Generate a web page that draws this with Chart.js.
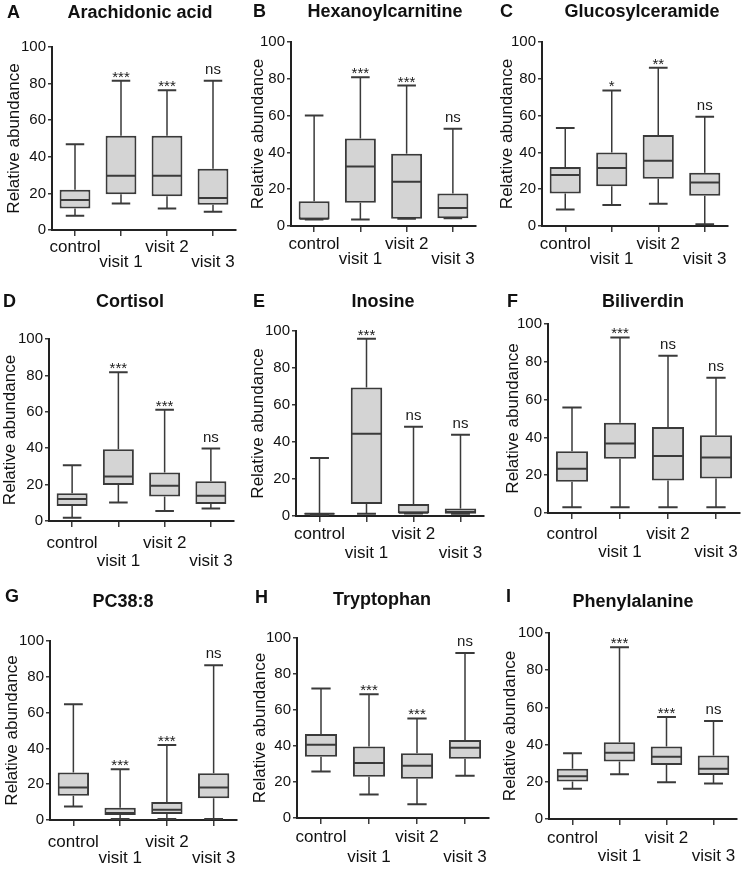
<!DOCTYPE html>
<html>
<head>
<meta charset="utf-8">
<script src="https://cdn.jsdelivr.net/npm/chart.js@4.4.0/dist/chart.umd.min.js"></script>
<style>
  body { margin: 0; background: #fff; }
  #wrap { position: relative; width: 749px; height: 869px; }
  canvas { position: absolute; }
</style>
</head>
<body>
<div id="wrap"></div>
<script>
const categories = ['control', 'visit 1', 'visit 2', 'visit 3'];
const yTickValues = [0, 20, 40, 60, 80, 100];
const panelLetters = ['A', 'B', 'C', 'D', 'E', 'F', 'G', 'H', 'I'];
const panelTitles = ['Arachidonic acid', 'Hexanoylcarnitine', 'Glucosylceramide', 'Cortisol',
  'Inosine', 'Biliverdin', 'PC38:8', 'Tryptophan', 'Phenylalanine'];

// each group: [min, q1, median, q3, max]
const arachidonicAcid = [[7.8, 11.8, 16.4, 22.0, 46.9], [14.5, 19.6, 29.6, 51.5, 81.5], [11.8, 18.5, 29.6, 51.5, 76.4], [10.0, 13.8, 17.5, 33.5, 81.5]];
const hexanoylcarnitine = [[3.6, 3.6, 3.9, 13.4, 60.1], [3.6, 12.7, 32.4, 47.5, 80.8], [4.0, 4.0, 24.1, 39.3, 76.3], [4.2, 4.2, 9.8, 17.6, 52.9]];
const glucosylceramide = [[8.9, 17.6, 27.7, 32.1, 53.3], [11.4, 21.6, 31.5, 40.0, 73.7], [12.1, 25.7, 35.5, 49.5, 86.0], [0.9, 16.5, 23.6, 29.0, 59.4]];
const cortisol = [[1.8, 8.3, 12.1, 15.2, 30.6], [10.1, 19.8, 24.4, 39.4, 81.7], [5.5, 13.4, 19.4, 26.6, 61.1], [6.8, 9.4, 13.9, 21.8, 39.8]];
const inosine = [[0.6, 0.8, 1.2, 1.5, 31.3], [1.2, 6.5, 44.5, 69.4, 95.8], [1.4, 1.5, 1.8, 6.5, 48.3], [1.2, 1.2, 2.2, 4.0, 43.9]];
const biliverdin = [[3.0, 16.6, 23.4, 32.7, 55.8], [3.0, 28.7, 36.8, 47.8, 92.9], [3.0, 17.2, 30.1, 45.5, 83.2], [3.0, 18.2, 29.4, 41.2, 71.5]];
const pc38_8 = [[7.6, 13.6, 18.1, 26.6, 64.6], [0.6, 2.8, 3.9, 6.9, 28.3], [0.6, 3.3, 5.7, 10.0, 41.9], [0.6, 12.1, 18.1, 26.1, 86.4]];
const tryptophan = [[25.9, 34.0, 40.7, 46.6, 71.9], [13.1, 22.9, 30.5, 39.7, 68.8], [7.6, 21.8, 29.0, 36.0, 55.3], [23.5, 32.9, 39.0, 43.3, 91.7]];
const phenylalanine = [[16.2, 20.1, 23.0, 27.0, 35.3], [24.1, 30.9, 35.6, 41.2, 92.3], [19.8, 29.0, 33.5, 39.0, 54.9], [19.1, 23.6, 27.0, 34.2, 52.7]];

const sigArachidonic = ['', '***', '***', 'ns'];
const sigHexanoyl = ['', '***', '***', 'ns'];
const sigGlucosyl = ['', '*', '**', 'ns'];
const sigCortisol = ['', '***', '***', 'ns'];
const sigInosine = ['', '***', 'ns', 'ns'];
const sigBiliverdin = ['', '***', 'ns', 'ns'];
const sigPC = ['', '***', '***', 'ns'];
const sigTryptophan = ['', '***', '***', 'ns'];
const sigPhenyl = ['', '***', '***', 'ns'];

const panelStats = [arachidonicAcid, hexanoylcarnitine, glucosylceramide, cortisol, inosine, biliverdin, pc38_8, tryptophan, phenylalanine];
const panelSig = [sigArachidonic, sigHexanoyl, sigGlucosyl, sigCortisol, sigInosine, sigBiliverdin, sigPC, sigTryptophan, sigPhenyl];

// where each panel sits and where its plot area falls
const panelLayout = [
  { x: 0,   y: 0,   w: 250, h: 290, left: 52, top: 47, right: 236, bottom: 230, tx: 140, ty: 13, lx: 7, ly: 13, lh: 15, pad: 4, yt: 6 },
  { x: 250, y: 0,   w: 250, h: 290, left: 41, top: 42, right: 226, bottom: 226, tx: 135, ty: 12, lx: 3, ly: 12, lh: 15, pad: 5, yt: 0 },
  { x: 500, y: 0,   w: 249, h: 290, left: 42, top: 42, right: 228, bottom: 226, tx: 142, ty: 12, lx: 0, ly: 12, lh: 15, pad: 5, yt: -1 },
  { x: 0,   y: 290, w: 250, h: 290, left: 49, top: 49, right: 234, bottom: 231, tx: 130, ty: 12, lx: 3, ly: 12, lh: 18, pad: 7, yt: 2 },
  { x: 250, y: 290, w: 250, h: 290, left: 46, top: 41, right: 234, bottom: 226, tx: 133, ty: 12, lx: 3, ly: 12, lh: 19, pad: 3, yt: 0 },
  { x: 500, y: 290, w: 249, h: 290, left: 48, top: 34, right: 240, bottom: 223, tx: 143, ty: 12, lx: 7, ly: 12, lh: 18, pad: 6, yt: 5 },
  { x: 0,   y: 580, w: 250, h: 289, left: 50, top: 61, right: 237, bottom: 240, tx: 123, ty: 22, lx: 5, ly: 17, lh: 16, pad: 8, yt: 4 },
  { x: 250, y: 580, w: 250, h: 289, left: 47, top: 58, right: 239, bottom: 238, tx: 132, ty: 20, lx: 5, ly: 18, lh: 20, pad: 3, yt: 2 },
  { x: 500, y: 580, w: 249, h: 289, left: 49, top: 53, right: 237, bottom: 239, tx: 133, ty: 22, lx: 6, ly: 17, lh: 18, pad: 4, yt: 2 }
];

const FONT = "'Liberation Sans', Arial, sans-serif";
const LINE = '#3a3a3a';

const boxPlugin = {
  id: 'boxDetails',
  afterDatasetsDraw(chart, args, opts) {
    const { ctx } = chart;
    const y = chart.scales.y;
    const meta = chart.getDatasetMeta(0);
    ctx.save();
    ctx.strokeStyle = LINE;
    meta.data.forEach((bar, i) => {
      const [mn, q1, med, q3, mx] = opts.stats[i];
      const x = bar.x;
      const half = bar.width / 2;
      const cap = bar.width * 0.3;
      const pMax = y.getPixelForValue(mx);
      const pMin = y.getPixelForValue(mn);
      ctx.lineWidth = 1.5;
      ctx.beginPath();
      ctx.moveTo(x, y.getPixelForValue(q3));
      ctx.lineTo(x, pMax);
      ctx.moveTo(x, y.getPixelForValue(q1));
      ctx.lineTo(x, pMin);
      ctx.stroke();
      ctx.lineWidth = 2;
      ctx.beginPath();
      ctx.moveTo(x - cap, pMax);
      ctx.lineTo(x + cap, pMax);
      ctx.moveTo(x - cap, pMin);
      ctx.lineTo(x + cap, pMin);
      const pMed = y.getPixelForValue(med);
      ctx.moveTo(x - half + 1, pMed);
      ctx.lineTo(x + half - 1, pMed);
      ctx.stroke();

      const sig = opts.sig[i];
      if (sig) {
        ctx.fillStyle = '#1a1a1a';
        ctx.textAlign = 'center';
        ctx.textBaseline = 'alphabetic';
        ctx.font = '15px ' + FONT;
        ctx.fillText(sig, x, sig === 'ns' ? pMax - 7 : pMax + 1);
      }
    });
    ctx.restore();
  },
  afterDraw(chart, args, opts) {
    const { ctx } = chart;
    ctx.save();
    ctx.fillStyle = '#111';
    ctx.font = 'bold 18px ' + FONT;
    ctx.textBaseline = 'middle';
    ctx.textAlign = 'left';
    ctx.fillText(opts.letter, opts.lx, opts.ly);
    ctx.textAlign = 'center';
    ctx.fillText(opts.title, opts.tx, opts.ty);
    ctx.restore();
  }
};

const wrap = document.getElementById('wrap');

panelLayout.forEach((p, k) => {
  const canvas = document.createElement('canvas');
  canvas.width = p.w;
  canvas.height = p.h;
  canvas.style.left = p.x + 'px';
  canvas.style.top = p.y + 'px';
  canvas.style.width = p.w + 'px';
  canvas.style.height = p.h + 'px';
  wrap.appendChild(canvas);

  const stats = panelStats[k];

  new Chart(canvas.getContext('2d'), {
    type: 'bar',
    data: {
      labels: categories,
      datasets: [{
        data: stats.map(s => [s[1], s[3]]),
        backgroundColor: '#d4d4d4',
        borderColor: LINE,
        borderWidth: 2,
        borderSkipped: false,
        barPercentage: 0.67,
        categoryPercentage: 1
      }]
    },
    options: {
      responsive: false,
      animation: false,
      devicePixelRatio: 1,
      layout: { padding: { left: 0, top: p.top, right: p.w - p.right, bottom: 0 } },
      plugins: {
        legend: { display: false },
        tooltip: { enabled: false },
        boxDetails: {
          stats: stats,
          sig: panelSig[k],
          letter: panelLetters[k],
          title: panelTitles[k],
          tx: p.tx, ty: p.ty, lx: p.lx, ly: p.ly
        }
      },
      scales: {
        x: {
          offset: true,
          afterFit: s => { s.height = p.h - p.bottom; },
          border: { display: true, color: '#222', width: 2 },
          grid: { drawOnChartArea: false, offset: false, drawTicks: true, tickLength: 6, color: LINE, lineWidth: 1.5 },
          ticks: {
            autoSkip: false,
            maxRotation: 0,
            padding: p.pad,
            color: '#111',
            font: { family: FONT, size: 17, lineHeight: p.lh + 'px' },
            callback: (v, i) => (i % 2 ? ['', categories[i]] : categories[i])
          }
        },
        y: {
          min: 0,
          max: 100,
          afterFit: s => { s.width = p.left; },
          afterBuildTicks: s => { s.ticks = yTickValues.map(v => ({ value: v })); },
          border: { display: true, color: '#222', width: 2 },
          grid: { drawOnChartArea: false, drawTicks: true, tickLength: 4, color: LINE, lineWidth: 1.5 },
          ticks: {
            padding: 2,
            color: '#111',
            font: { family: FONT, size: 15 }
          },
          title: {
            display: true,
            text: 'Relative abundance',
            color: '#111',
            padding: { top: p.yt, bottom: 0 },
            font: { family: FONT, size: 17, lineHeight: '16px' }
          }
        }
      }
    },
    plugins: [boxPlugin]
  });
});
</script>
</body>
</html>
